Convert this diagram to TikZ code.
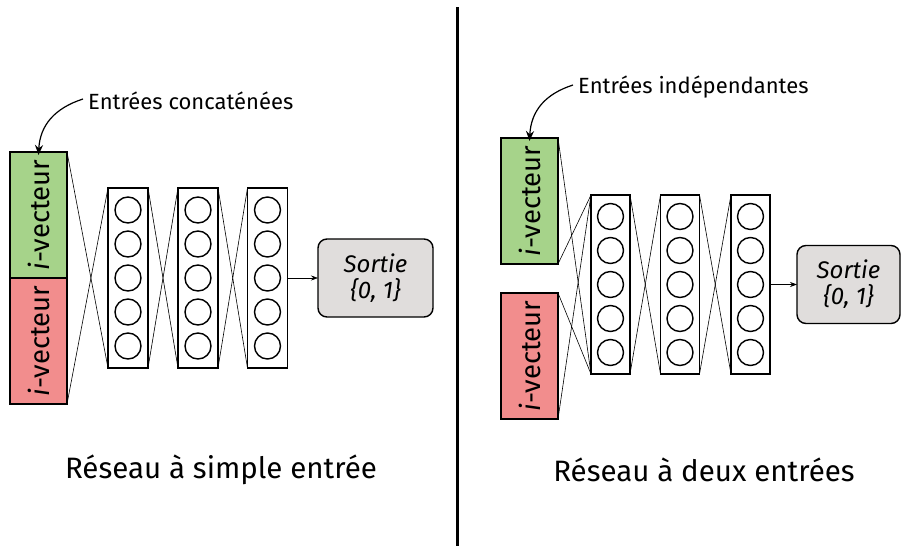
\documentclass[tikz,border=0pt]{standalone}
\usepackage{fontspec}
\setmainfont{Fira Sans}
\usetikzlibrary{arrows.meta}
\definecolor{vgreen}{HTML}{A6D38A}
\definecolor{vred}{HTML}{F28D8D}
\definecolor{sgray}{HTML}{E0DDDC}
\begin{document}
\begin{tikzpicture}[x=1pt,y=-1pt,
  vecbox/.style={draw,line width=1.4pt,minimum width=57pt,minimum height=126pt,inner sep=0pt,outer sep=0pt},
  vectxt/.style={rotate=90,font=\fontsize{27.5}{30}\selectfont},
  layer/.style={draw,line width=1.4pt,minimum width=40pt,minimum height=180pt,inner sep=0pt,outer sep=0pt},
  neuron/.style={draw,line width=1.4pt,circle,minimum size=26pt,inner sep=0pt},
  outbox/.style={draw,line width=1.4pt,fill=sgray,rounded corners=9pt,minimum height=78pt,inner sep=0pt,outer sep=0pt,align=center,font=\fontsize{24}{26}\selectfont\itshape},
  link/.style={line width=0.6pt},
  outarrow/.style={line width=0.6pt,-{Stealth[length=7pt,width=5pt]}},
  annot/.style={anchor=west,inner sep=0pt,font=\fontsize{22}{26}\selectfont},
  annotarrow/.style={line width=1.2pt,-{Stealth[length=10pt,width=8pt]}},
  title/.style={inner sep=0pt,font=\fontsize{29.5}{34}\selectfont}
]
\useasboundingbox (0,0) rectangle (902,546);

% divider
\coordinate (dtop) at (457,7);
\coordinate (dbot) at (457,546);
\draw[line width=3pt] (dtop) -- (dbot);

% ---------- left panel ----------
\node[vecbox,fill=vgreen] (lg) at (38.5,215) {};
\node[vecbox,fill=vred] (lr) at (38.5,341) {};
\node[vectxt] (lgt) at (lg.center) {\textit{i}-vecteur};
\node[vectxt] (lrt) at (lr.center) {\textit{i}-vecteur};

\foreach \n/\x in {1/128,2/198,3/267.5}{
  \node[layer] (L\n) at (\x,278) {};
  \foreach \k/\dy in {1/-68,2/-34,3/0,4/34,5/68}{
    \node[neuron] (L\n c\k) at (\x,278+\dy) {};
  }
}
\draw[link] (lg.north east) -- (L1.south west);
\draw[link] (lr.south east) -- (L1.north west);
\draw[link] (L1.north east) -- (L2.south west);
\draw[link] (L1.south east) -- (L2.north west);
\draw[link] (L2.north east) -- (L3.south west);
\draw[link] (L2.south east) -- (L3.north west);

\node[outbox,minimum width=115pt] (lo) at (375.5,278) {Sortie\\\{0, 1\}};
\draw[outarrow] (L3.east) -- (lo.west);

\node[annot] (la) at (88,101) {Entrées concaténées};
\draw[annotarrow] ([xshift=-5pt,yshift=2pt]la.west) .. controls (55,108) and (40,125) .. ([yshift=-3pt]lg.north);

\node[title] (lt) at (221,470) {Réseau à simple entrée};

% ---------- right panel ----------
\node[vecbox,fill=vgreen] (rg) at (529.5,201) {};
\node[vecbox,fill=vred] (rr) at (529.5,356) {};
\node[vectxt] (rgt) at (rg.center) {\textit{i}-vecteur};
\node[vectxt] (rrt) at (rr.center) {\textit{i}-vecteur};

\foreach \n/\x in {1/610.5,2/680,3/750.5}{
  \node[layer,minimum width=39pt,minimum height=179pt] (R\n) at (\x,284.5) {};
  \foreach \k/\dy in {1/-68,2/-34,3/0,4/34,5/68}{
    \node[neuron] (R\n c\k) at (\x,284.5+\dy) {};
  }
}
\draw[link] (rg.north east) -- (R1.south west);
\draw[link] (rg.south east) -- (R1.north west);
\draw[link] (rr.north east) -- (R1.south west);
\draw[link] (rr.south east) -- (R1.north west);
\draw[link] (R1.north east) -- (R2.south west);
\draw[link] (R1.south east) -- (R2.north west);
\draw[link] (R2.north east) -- (R3.south west);
\draw[link] (R2.south east) -- (R3.north west);

\node[outbox,minimum width=103pt] (ro) at (848.5,284.5) {Sortie\\\{0, 1\}};
\draw[outarrow] (R3.east) -- (ro.west);

\node[annot] (ra) at (578,87) {Entrées indépendantes};
\draw[annotarrow] ([xshift=-5pt,yshift=2pt]ra.west) .. controls (545,94) and (531,111) .. ([yshift=-3pt]rg.north);

\node[title] (rt) at (704,470) {Réseau à deux entrées};
\end{tikzpicture}
\end{document}
